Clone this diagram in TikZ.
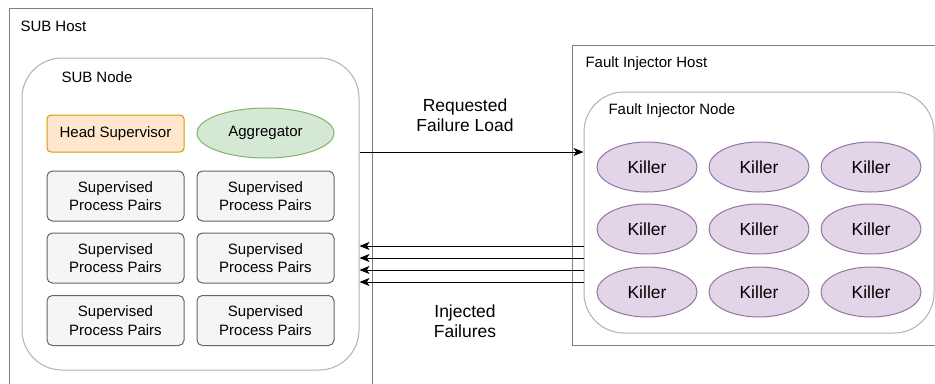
\documentclass[tikz,border=0pt]{standalone}
\usepackage{fontspec}
\setmainfont{Liberation Sans}
\usetikzlibrary{arrows.meta, positioning, shapes.geometric}

\definecolor{headfill}{HTML}{FFE6CC}
\definecolor{headdraw}{HTML}{D79B00}
\definecolor{aggfill}{HTML}{D5E8D4}
\definecolor{aggdraw}{HTML}{82B366}
\definecolor{sppfill}{HTML}{F5F5F5}
\definecolor{sppdraw}{HTML}{666666}
\definecolor{killfill}{HTML}{E1D5E7}
\definecolor{killdraw}{HTML}{9673A6}

\begin{document}
\begin{tikzpicture}[x=0.75pt, y=-0.75pt, line width=0.75pt,
        hostbox/.style={rectangle, draw=black!50, fill=white, inner sep=0pt},
        nodebox/.style={rectangle, draw=black!30, fill=white, rounded corners=30pt, inner sep=0pt},
        title/.style={anchor=west, inner sep=0pt, font=\fontsize{11.25}{13.5}\selectfont},
        head/.style={rectangle, draw=headdraw, fill=headfill, rounded corners=3pt, minimum width=102.75pt, minimum height=27.75pt, font=\fontsize{11.25}{13.5}\selectfont},
        agg/.style={ellipse, draw=aggdraw, fill=aggfill, minimum width=102.75pt, minimum height=37.5pt, inner sep=0pt, font=\fontsize{11.25}{13.5}\selectfont},
        spp/.style={rectangle, draw=sppdraw, fill=sppfill, rounded corners=4pt, minimum width=102.75pt, minimum height=37.5pt, align=center, font=\fontsize{11.25}{14}\selectfont},
        killer/.style={ellipse, draw=killdraw, fill=killfill, minimum width=75pt, minimum height=37.5pt, inner sep=0pt, font=\fontsize{13.1}{15}\selectfont},
        flow/.style={align=center, inner sep=0pt, font=\fontsize{13.1}{15}\selectfont},
        arrow/.style={draw, -{Stealth[length=7.5pt, width=6pt, inset=2pt]}, line width=0.75pt, color=black}
    ]
        \useasboundingbox (0,0) rectangle (935,383);

        % Hosts
        \node [hostbox, minimum width=272.25pt, minimum height=288pt] (subhost) at (190.5,200) {};
        \node [title] (subhosttitle) at (20,26) {SUB Host};
        \node [hostbox, minimum width=279.75pt, minimum height=225pt] (fihost) at (758.5,195) {};
        \node [title] (fihosttitle) at (585,64) {Fault Injector Host};

        % SUB node and its processes
        \node [nodebox, minimum width=252.75pt, minimum height=234pt] (subnode) at (190.5,214) {};
        \node [title] (subnodetitle) at (61,77) {SUB Node};

        \node [head] (head) at (115.5,133.5) {Head Supervisor};
        \node [agg] (agg) at (265.5,133) {Aggregator};

        \node [spp] (spp11) at (115.5,196) {Supervised\\Process Pairs};
        \node [spp] (spp12) at (265.5,196) {Supervised\\Process Pairs};
        \node [spp] (spp21) at (115.5,258) {Supervised\\Process Pairs};
        \node [spp] (spp22) at (265.5,258) {Supervised\\Process Pairs};
        \node [spp] (spp31) at (115.5,320.5) {Supervised\\Process Pairs};
        \node [spp] (spp32) at (265.5,320.5) {Supervised\\Process Pairs};

        % Fault injector node with its killers
        \node [nodebox, minimum width=262.5pt, minimum height=180.75pt] (finode) at (759,212.5) {};
        \node [title] (finodetitle) at (608,110.5) {Fault Injector Node};

        \foreach \r/\y in {1/167, 2/229, 3/292}
            \foreach \c/\x in {1/647, 2/759, 3/871}
                \node [killer] (killer\r\c) at (\x,\y) {Killer};

        % Requested load goes right, injected failures come back
        \coordinate (req) at (0,152);
        \draw [arrow] (subnode.east |- req) -- (finode.west |- req);
        \node [flow] (reqlbl) at (465,115) {Requested\\Failure Load};

        \draw [arrow] (finode.west |- 0,246) -- (subnode.east |- 0,246);
        \draw [arrow] (finode.west |- 0,258) -- (subnode.east |- 0,258);
        \draw [arrow] (finode.west |- 0,270) -- (subnode.east |- 0,270);
        \draw [arrow] (finode.west |- 0,282) -- (subnode.east |- 0,282);
        \node [flow] (injlbl) at (465,321) {Injected\\Failures};

    \end{tikzpicture}
\end{document}
